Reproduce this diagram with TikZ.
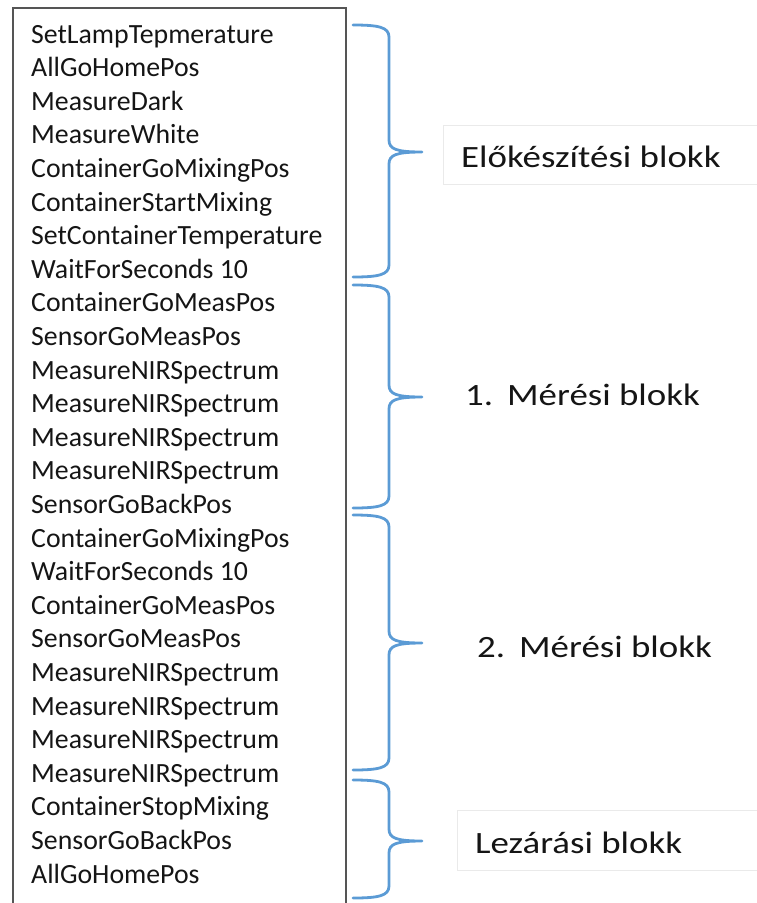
\documentclass[tikz,border=0pt]{standalone}
\usepackage{fontspec}
\setmainfont{Carlito}
\newfontfamily\widefont[FakeStretch=1.19]{Carlito}
\definecolor{bracecol}{HTML}{5B9BD5}
\definecolor{framecol}{HTML}{555555}
\definecolor{faint}{HTML}{EAEAEA}
\definecolor{ink}{HTML}{151515}
\tikzset{
  cmd/.style={anchor=base west, inner sep=0pt, text=ink, font=\fontsize{27.8}{32}\selectfont},
  blocklabel/.style={anchor=base west, inner sep=0pt, text=ink, font=\widefont\fontsize{31}{36}\selectfont},
  bracepath/.style={draw=bracecol, line width=2.8pt, line cap=round, line join=round},
  faintbox/.style={draw=faint, line width=0.8pt}
}
% curly brace: #1 = top y, #2 = tip y, #3 = bottom y (y grows downward)
\newcommand{\blockbrace}[3]{%
  \draw[bracepath] (353,#1) .. controls (378,#1) and (389,#1+2) .. (389,#1+12)
    -- (389,#2-12) .. controls (389,#2-3) and (396,#2) .. (422,#2)
    (389,#2+12) .. controls (389,#2+3) and (396,#2) .. (422,#2)
    (389,#2+12) -- (389,#3-12) .. controls (389,#3-2) and (378,#3) .. (353,#3);}
\begin{document}
\begin{tikzpicture}[x=1pt,y=-1pt]
\useasboundingbox (0,0) rectangle (757,903);
% command list frame (open at the bottom)
\draw[framecol, line width=1.3pt] (13,915) -- (13,8) -- (346,8) -- (346,915);
% command lines
\foreach \t [count=\i from 0] in {SetLampTepmerature, AllGoHomePos, MeasureDark, MeasureWhite,
  ContainerGoMixingPos, ContainerStartMixing, SetContainerTemperature, WaitForSeconds 10,
  ContainerGoMeasPos, SensorGoMeasPos, MeasureNIRSpectrum, MeasureNIRSpectrum,
  MeasureNIRSpectrum, MeasureNIRSpectrum, SensorGoBackPos, ContainerGoMixingPos,
  WaitForSeconds 10, ContainerGoMeasPos, SensorGoMeasPos, MeasureNIRSpectrum,
  MeasureNIRSpectrum, MeasureNIRSpectrum, MeasureNIRSpectrum, ContainerStopMixing,
  SensorGoBackPos, AllGoHomePos}
  \node[cmd] (c\i) at (31,{43+33.6*\i}) {\t};
% braces grouping the blocks
\blockbrace{25}{152}{277}
\blockbrace{285}{397}{508}
\blockbrace{515}{643}{770}
\blockbrace{780}{841}{898}
% faint text frames
\draw[faintbox] (443,125) rectangle (760,184);
\draw[faintbox] (457,810) rectangle (760,870);
% block labels
\node[blocklabel] (b1) at (461,167) {Előkészítési blokk};
\node[blocklabel] (b2) at (465,405) {1.\hspace{14pt}Mérési blokk};
\node[blocklabel] (b3) at (477,657) {2.\hspace{14pt}Mérési blokk};
\node[blocklabel] (b4) at (475,853) {Lezárási blokk};
\end{tikzpicture}
\end{document}
